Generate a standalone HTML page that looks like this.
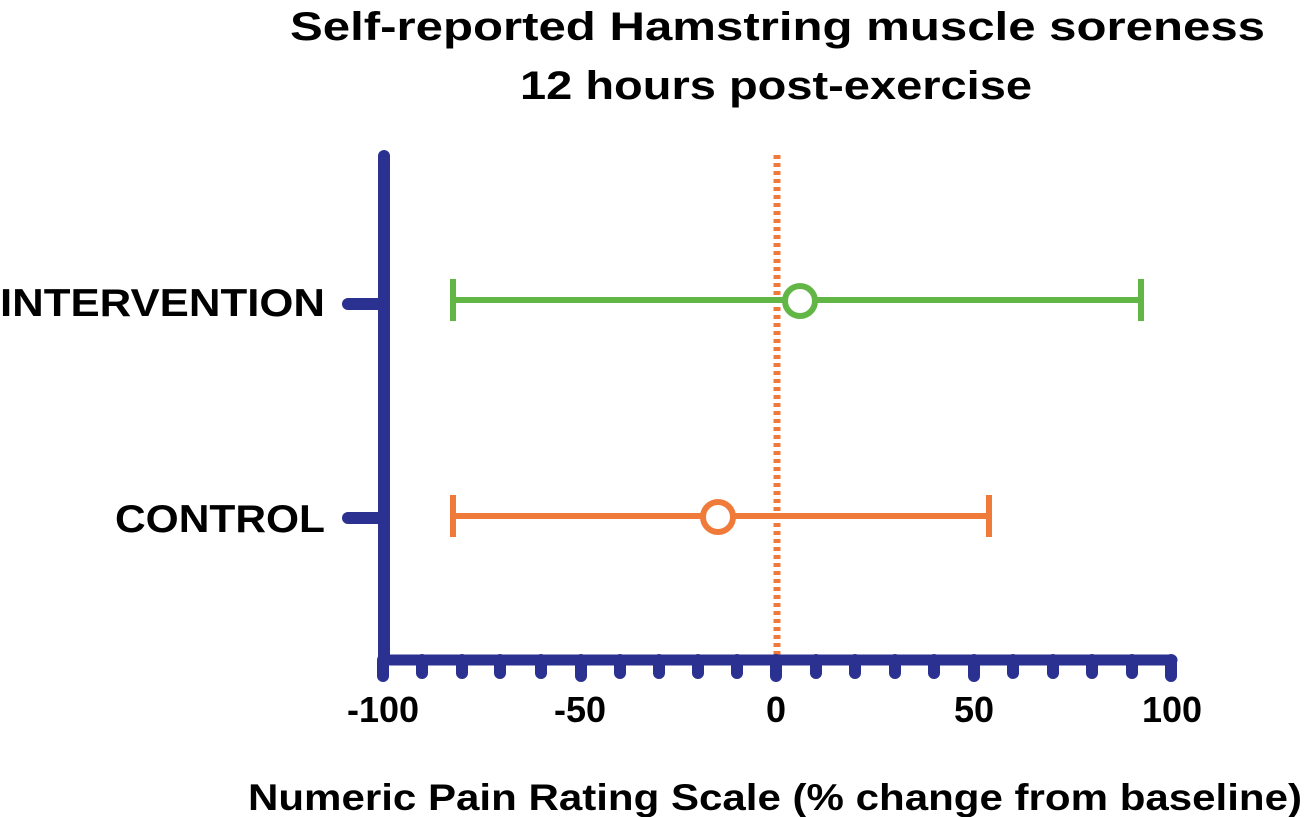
<!DOCTYPE html>
<html><head><style>html,body{margin:0;padding:0;background:#fff}svg{display:block}</style></head>
<body>
<svg width="1305" height="817" viewBox="0 0 1305 817" xmlns="http://www.w3.org/2000/svg" font-family="Liberation Sans, sans-serif" font-weight="bold">
<g fill="#000">
<text x="290" y="40" font-size="40" textLength="975" lengthAdjust="spacingAndGlyphs">Self-reported Hamstring muscle soreness</text>
<text x="520" y="99" font-size="40" textLength="512" lengthAdjust="spacingAndGlyphs">12 hours post-exercise</text>
<text x="0" y="316" font-size="39" textLength="325" lengthAdjust="spacingAndGlyphs">INTERVENTION</text>
<text x="115" y="532" font-size="39" textLength="210" lengthAdjust="spacingAndGlyphs">CONTROL</text>
<g font-size="36" text-anchor="middle">
<text x="383" y="722">-100</text><text x="580" y="722">-50</text><text x="776" y="722">0</text><text x="974" y="722">50</text><text x="1172" y="722">100</text>
</g>
<text x="248" y="810" font-size="37" textLength="1054" lengthAdjust="spacingAndGlyphs">Numeric Pain Rating Scale (% change from baseline)</text>
</g>
<!-- dotted zero line -->
<line x1="777" y1="155" x2="777" y2="655" stroke="#ef7a3a" stroke-width="7" stroke-dasharray="4 4"/>
<!-- axes -->
<g stroke="#2b3190" stroke-linecap="round">
<line x1="384" y1="157" x2="384" y2="660" stroke-width="12" stroke-linecap="butt"/>
<line x1="384" y1="660" x2="1172" y2="660" stroke-width="11"/>
<line x1="348" y1="304" x2="378" y2="304" stroke-width="12"/>
<line x1="348" y1="518" x2="378" y2="518" stroke-width="12"/>
<line x1="384" y1="156" x2="384" y2="160" stroke-width="12"/>
</g>
<g stroke="#2b3190" stroke-width="12" stroke-linecap="round" id="ticks">
<line x1="383" y1="660" x2="383" y2="676"/><line x1="422" y1="660" x2="422" y2="673"/><line x1="462" y1="660" x2="462" y2="673"/><line x1="500" y1="660" x2="500" y2="673"/><line x1="541" y1="660" x2="541" y2="673"/><line x1="581" y1="660" x2="581" y2="676"/><line x1="620" y1="660" x2="620" y2="673"/><line x1="659" y1="660" x2="659" y2="673"/><line x1="698" y1="660" x2="698" y2="673"/><line x1="737" y1="660" x2="737" y2="673"/><line x1="776" y1="660" x2="776" y2="676"/>
<line x1="816" y1="660" x2="816" y2="673"/><line x1="855" y1="660" x2="855" y2="673"/><line x1="895" y1="660" x2="895" y2="673"/><line x1="934" y1="660" x2="934" y2="673"/><line x1="974" y1="660" x2="974" y2="676"/><line x1="1013" y1="660" x2="1013" y2="673"/><line x1="1053" y1="660" x2="1053" y2="673"/><line x1="1092" y1="660" x2="1092" y2="673"/><line x1="1132" y1="660" x2="1132" y2="673"/><line x1="1171" y1="660" x2="1171" y2="676"/>
</g>
<!-- intervention -->
<g stroke="#62b646" stroke-width="6" fill="none">
<line x1="453" y1="300" x2="1141" y2="300"/>
<line x1="453" y1="279" x2="453" y2="321"/>
<line x1="1141" y1="279" x2="1141" y2="321"/>
<circle cx="800" cy="301" r="15" fill="#fff"/>
</g>
<!-- control -->
<g stroke="#ef7a3a" stroke-width="6" fill="none">
<line x1="453" y1="516" x2="989" y2="516"/>
<line x1="453" y1="495" x2="453" y2="537"/>
<line x1="989" y1="495" x2="989" y2="537"/>
<circle cx="718" cy="517" r="15" fill="#fff"/>
</g>
</svg>
</body></html>
